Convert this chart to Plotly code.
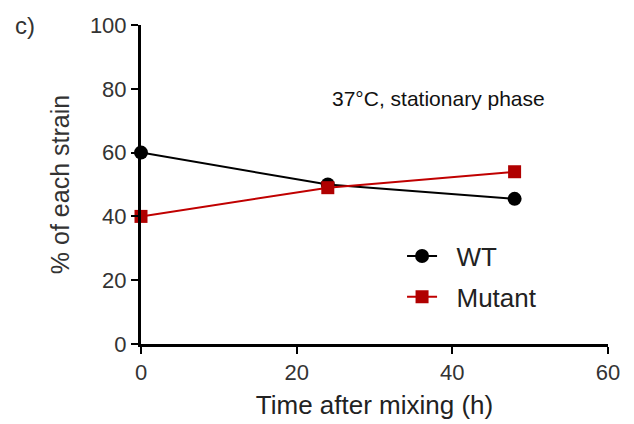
import plotly.graph_objects as go

# Time points (h) and percentage of each strain in the mixed culture
time_h = [0, 24, 48]
wt_pct = [60, 50, 45.5]
mutant_pct = [40, 49, 54]

FONT = "Liberation Sans, Arial, sans-serif"
NBSP = "\u00a0"

fig = go.Figure()
fig.add_trace(go.Scatter(
    x=time_h, y=wt_pct, name=NBSP * 2 + "WT", mode="lines+markers",
    legendgroup="wt",
    line=dict(color="black", width=2),
    marker=dict(symbol="circle", size=14, color="black"),
    cliponaxis=False,
))
fig.add_trace(go.Scatter(
    x=time_h, y=mutant_pct, name=NBSP * 2 + "Mutant", mode="lines+markers",
    legendgroup="mut",
    line=dict(color="#c00000", width=2),
    marker=dict(symbol="square", size=13, color="#b00000"),
    cliponaxis=False,
))

axis_common = dict(
    showline=True, linecolor="black", linewidth=3,
    ticks="outside", ticklen=7, tickwidth=2, tickcolor="black",
    showgrid=False, zeroline=False, automargin=False,
    tickfont=dict(family=FONT, size=22, color="#333333"),
)

fig.update_xaxes(
    range=[0, 60], tickvals=[0, 20, 40, 60],
    title=dict(text="Time after mixing (h)", font=dict(family=FONT, size=26, color="#222222"), standoff=12),
    **axis_common,
)
fig.update_yaxes(
    range=[0, 100], tickvals=[0, 20, 40, 60, 80, 100],
    title=dict(text="% of each strain", font=dict(family=FONT, size=25, color="#333333"), standoff=14),
    **axis_common,
)

fig.add_annotation(
    x=38.2, y=77, xref="x", yref="y", text="37°C, stationary phase",
    showarrow=False, font=dict(family=FONT, size=21, color="#111111"),
)
fig.add_annotation(
    x=-0.274, y=0.997, xref="paper", yref="paper", text="c)",
    showarrow=False, xanchor="left", yanchor="middle",
    font=dict(family=FONT, size=24, color="#333333"),
)

fig.update_layout(
    width=634, height=424,
    margin=dict(l=141, r=26, t=25, b=80),
    paper_bgcolor="white", plot_bgcolor="white",
    showlegend=True,
    legend=dict(
        x=0.559, y=0.349, xanchor="left", yanchor="top",
        font=dict(family=FONT, size=26, color="#222222"),
        bgcolor="rgba(0,0,0,0)", itemwidth=30, tracegroupgap=4,
    ),
)

fig.write_html("out.html")
